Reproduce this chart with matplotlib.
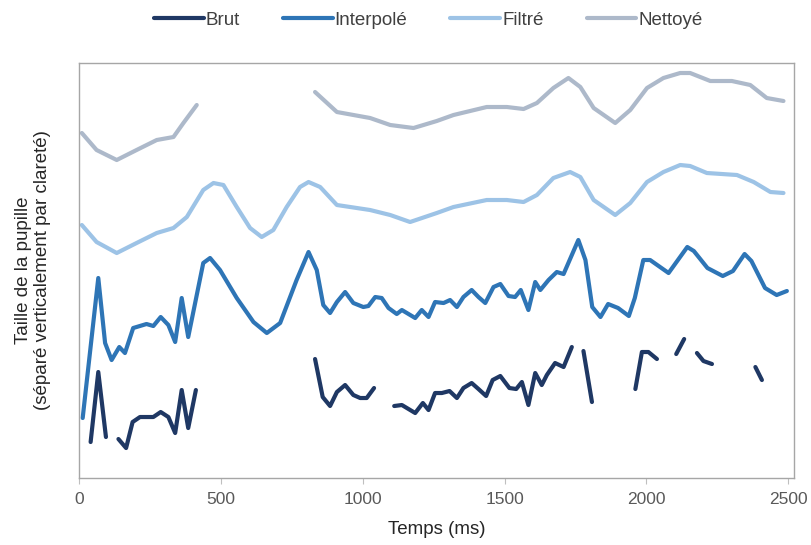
import numpy as np
import matplotlib.pyplot as plt

plt.rcParams['font.family'] = ['Liberation Sans', 'DejaVu Sans']

# Temps (ms) et taille (unités arbitraires, séries décalées verticalement)
t_brut = [41, 68, 95, np.nan,
          139, 166, 189, 215, 262, 288, 315, 339, 362, 385, 412, np.nan,
          832, 859, 885, 909, 938, 967, 991, 1014, 1040, np.nan,
          1111, 1138, 1185, 1212, 1232, 1255, 1279, 1306, 1332, 1355, 1384, 1408,
          1435, 1458, 1485, 1517, 1541, 1561, 1584, 1608, 1631, 1649, 1678, 1708,
          1737, np.nan,
          1778, 1808, np.nan,
          1961, 1984, 2007, 2037, np.nan,
          2105, 2133, np.nan,
          2178, 2201, 2231, np.nan,
          2384, 2407]
v_brut = [36, 106, 41, np.nan,
          39, 30, 56, 61, 61, 66, 61, 45, 88, 50, 88, np.nan,
          119, 81, 72, 86, 93, 83, 80, 80, 90, np.nan,
          72, 73, 65, 75, 68, 85, 85, 87, 80, 90, 95, 89,
          82, 98, 102, 90, 89, 96, 73, 105, 93, 103, 115, 111,
          131, np.nan,
          127, 76, np.nan,
          89, 126, 126, 119, np.nan,
          124, 139, np.nan,
          125, 117, 114, np.nan,
          111, 98]

t_interp = [13, 68, 92, 115, 142, 162, 191, 238, 262, 288, 315, 339, 362, 385,
            438, 462, 497, 556, 615, 662, 709, 767, 809, 838, 861, 885, 909, 938,
            967, 1002, 1020, 1044, 1067, 1091, 1120, 1138, 1185, 1208, 1232, 1255,
            1285, 1308, 1332, 1355, 1384, 1408, 1432, 1461, 1485, 1514, 1537, 1557,
            1584, 1608, 1626, 1655, 1684, 1708, 1760, 1785, 1809, 1838, 1865, 1900,
            1938, 1959, 1989, 2013, 2078, 2144, 2167, 2215, 2269, 2305, 2346, 2370,
            2418, 2459, 2495]
v_interp = [60, 200, 135, 118, 131, 125, 150, 154, 152, 161, 153, 136, 180, 141,
            215, 220, 208, 180, 156, 145, 155, 198, 226, 208, 173, 165, 176, 186,
            175, 171, 172, 181, 180, 170, 164, 168, 160, 168, 161, 176,
            175, 178, 171, 181, 188, 181, 175, 191, 194, 182, 181, 188,
            168, 196, 188, 198, 206, 204, 238, 218, 171, 161, 174, 170,
            162, 180, 218, 218, 205, 231, 227, 210, 202, 207, 224, 217,
            190, 183, 187]

t_filtre = [10, 62, 133, 203, 274, 333, 380, 438, 474, 509, 556, 603, 644, 685,
            732, 779, 809, 850, 909, 1026, 1097, 1167, 1261, 1320, 1437, 1508,
            1567, 1614, 1672, 1731, 1767, 1814, 1890, 1943, 2002, 2060, 2119,
            2154, 2213, 2319, 2378, 2437, 2483]
v_filtre = [253, 236, 225, 235, 245, 250, 261, 288, 295, 293, 271, 250, 241, 248,
            271, 291, 296, 291, 273, 268, 263, 256, 265, 271, 278, 278,
            276, 283, 300, 306, 301, 278, 263, 275, 296, 306, 313,
            312, 305, 303, 296, 286, 285]

t_nettoye = [10, 62, 133, 203, 274, 333, 368, 415, np.nan,
             832, 909, 1026, 1097, 1179, 1261, 1320, 1437, 1508, 1567, 1614, 1672,
             1725, 1767, 1814, 1890, 1943, 2002, 2060, 2119, 2154, 2225, 2301,
             2366, 2424, 2483]
v_nettoye = [345, 328, 318, 328, 338, 341, 355, 373, np.nan,
             386, 366, 360, 353, 350, 357, 363, 371, 371, 369, 375, 390,
             400, 391, 370, 355, 368, 390, 400, 405, 405, 397, 397,
             393, 380, 377]

fig = plt.figure(figsize=(8.11, 5.45), dpi=100)
ax = fig.add_axes([0.0974, 0.1229, 0.8816, 0.7615])

style = dict(lw=3.0, solid_capstyle='round', solid_joinstyle='round')
ax.plot(t_brut, v_brut, color='#1F3864', label='Brut', **style)
ax.plot(t_interp, v_interp, color='#2E75B6', label='Interpolé', **style)
ax.plot(t_filtre, v_filtre, color='#9DC3E6', label='Filtré', **style)
ax.plot(t_nettoye, v_nettoye, color='#ADB9CA', label='Nettoyé', **style)

ax.set_xlim(0, 2520)
ax.set_ylim(0, 415)
ax.set_xticks([0, 500, 1000, 1500, 2000, 2500])
ax.set_yticks([])
ax.tick_params(axis='x', direction='out', length=4, color='#BFBFBF', labelcolor='#595959', labelsize=12.5, pad=6)
for s in ax.spines.values():
    s.set_color('#A6A6A6')
    s.set_linewidth(1)

ax.set_xlabel('Temps (ms)', fontsize=13.5, color='#262626', labelpad=10)
ax.set_ylabel('Taille de la pupille\n(séparé verticalement par clareté)', fontsize=13.5,
              color='#262626', labelpad=20, linespacing=1.15)

fig.legend(loc='center', bbox_to_anchor=(0.528, 0.963), ncol=4, frameon=False,
           fontsize=13.5, handlelength=2.65, handletextpad=0.1, columnspacing=2.3,
           labelcolor='#404040')

fig.savefig('out.png', dpi=100)
